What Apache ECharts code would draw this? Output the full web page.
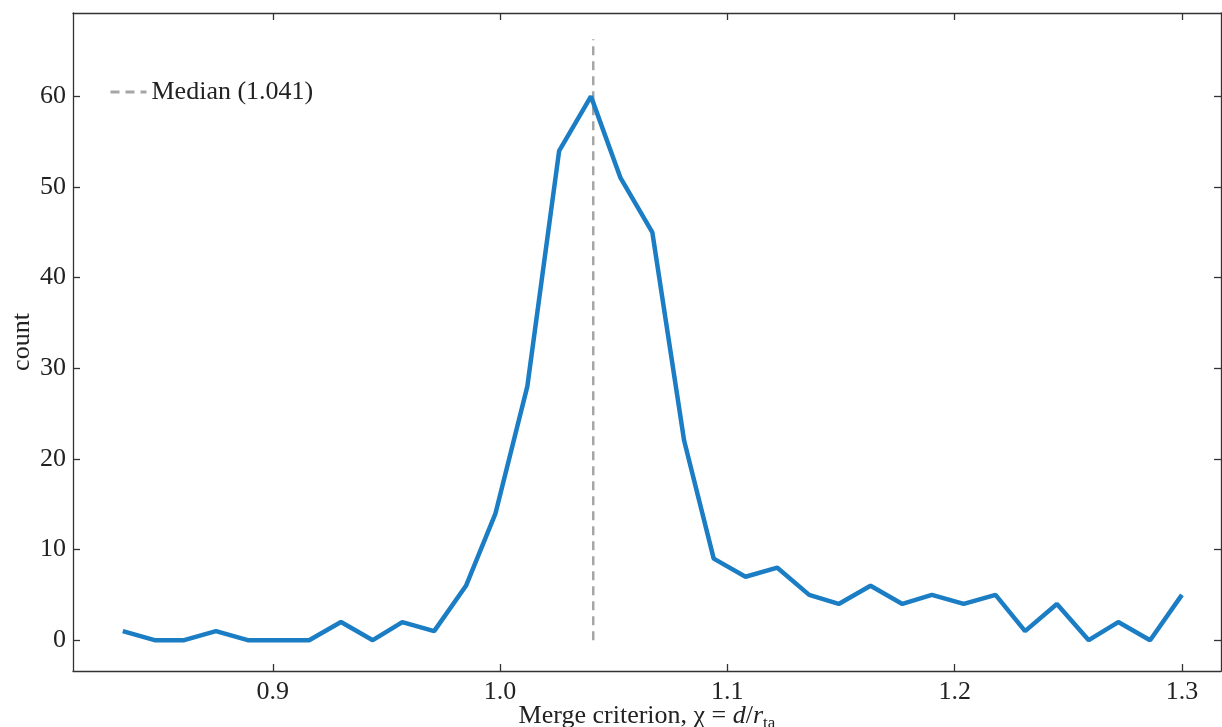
<!DOCTYPE html>
<html>
<head>
<meta charset="utf-8">
<script src="https://cdn.jsdelivr.net/npm/echarts@6/dist/echarts.min.js"></script>
<style>
  html, body { margin: 0; padding: 0; background: #fff; }
  #chart { width: 1222px; height: 727px; }
</style>
</head>
<body>
<div id="chart"></div>
<script>
// bin positions (chi) and counts
const chi = [
  0.834, 0.848, 0.861, 0.875, 0.889, 0.903, 0.916, 0.930, 0.944, 0.957,
  0.971, 0.985, 0.998, 1.012, 1.026, 1.040, 1.053, 1.067, 1.081, 1.094,
  1.108, 1.122, 1.136, 1.149, 1.163, 1.177, 1.190, 1.204, 1.218, 1.231,
  1.245, 1.259, 1.272, 1.286, 1.300
]
const counts = [
  1, 0, 0, 1, 0, 0, 0, 2, 0, 2,
  1, 6, 14, 28, 54, 60, 51, 45, 22, 9,
  7, 8, 5, 4, 6, 4, 5, 4, 5, 1,
  4, 0, 2, 0, 5
]
const xTicks = [0.9, 1.0, 1.1, 1.2, 1.3]
const yTicks = [0, 10, 20, 30, 40, 50, 60]
const median = 1.041
const medianName = 'Median (1.041)'
const medianTop = 66.3

const font = 'Liberation Serif, Times New Roman, serif'
const axisColor = '#333'

const chart = echarts.init(document.getElementById('chart'))

const baseX = {
  type: 'value',
  min: 0.8121,
  max: 1.3172,
  axisLine: { show: true, onZero: false, lineStyle: { color: axisColor, width: 1.3 } },
  axisTick: { show: true, inside: true, length: 7, customValues: xTicks, lineStyle: { color: axisColor, width: 1.3 } },
  splitLine: { show: false }
}
const baseY = {
  type: 'value',
  min: -3.4,
  max: 69.2,
  axisLine: { show: true, onZero: false, lineStyle: { color: axisColor, width: 1.3 } },
  axisTick: { show: true, inside: true, length: 7, customValues: yTicks, lineStyle: { color: axisColor, width: 1.3 } },
  splitLine: { show: false }
}

const option = {
  animation: false,
  backgroundColor: '#fff',
  grid: { left: 73, right: 1, top: 13, bottom: 56, containLabel: false, outerBoundsMode: 'none' },
  legend: {
    data: [medianName],
    left: 104,
    top: 74,
    itemWidth: 36,
    itemHeight: 14,
    itemGap: 13,
    itemStyle: { opacity: 0 },
    lineStyle: { width: 3 },
    textStyle: { fontFamily: font, fontSize: 26, color: '#222' }
  },
  xAxis: [
    Object.assign({}, baseX, {
      position: 'bottom',
      name: '{n|Merge criterion, χ = }{i|d}{n|/}{i|r}{s|ta}',
      nameLocation: 'middle',
      nameGap: 30,
      nameMoveOverlap: false,
      nameTextStyle: {
        verticalAlign: 'top',
        rich: {
          n: { fontFamily: font, fontSize: 26, color: '#222' },
          i: { fontFamily: font, fontSize: 26, fontStyle: 'italic', color: '#222' },
          s: { fontFamily: font, fontSize: 17, color: '#222', padding: [14, 0, 0, 0] }
        }
      },
      axisLabel: {
        customValues: xTicks,
        margin: 8,
        fontFamily: font,
        fontSize: 26,
        color: '#222',
        formatter: (v) => v.toFixed(1)
      }
    }),
    Object.assign({}, baseX, {
      position: 'top',
      axisLabel: { show: false }
    })
  ],
  yAxis: [
    Object.assign({}, baseY, {
      position: 'left',
      name: 'count',
      nameLocation: 'middle',
      nameGap: 38,
      nameMoveOverlap: false,
      nameTextStyle: { fontFamily: font, fontSize: 26, color: '#222' },
      axisLabel: {
        customValues: yTicks,
        margin: 7,
        fontFamily: font,
        fontSize: 26,
        color: '#222'
      }
    }),
    Object.assign({}, baseY, {
      position: 'right',
      axisLabel: { show: false }
    })
  ],
  series: [
    {
      name: 'counts',
      type: 'line',
      data: chi.map((x, i) => [x, counts[i]]),
      showSymbol: false,
      symbol: 'none',
      lineStyle: { color: '#1b7dc4', width: 4.5 },
      z: 3
    },
    {
      name: medianName,
      type: 'line',
      data: [[median, 0], [median, medianTop]],
      symbol: 'none',
      lineStyle: { color: '#a6a6a6', width: 2.5, type: [9, 6] },
      itemStyle: { color: '#a6a6a6' },
      z: 2
    }
  ]
}

chart.setOption(option)
window.addEventListener('resize', () => chart.resize())
</script>
</body>
</html>
